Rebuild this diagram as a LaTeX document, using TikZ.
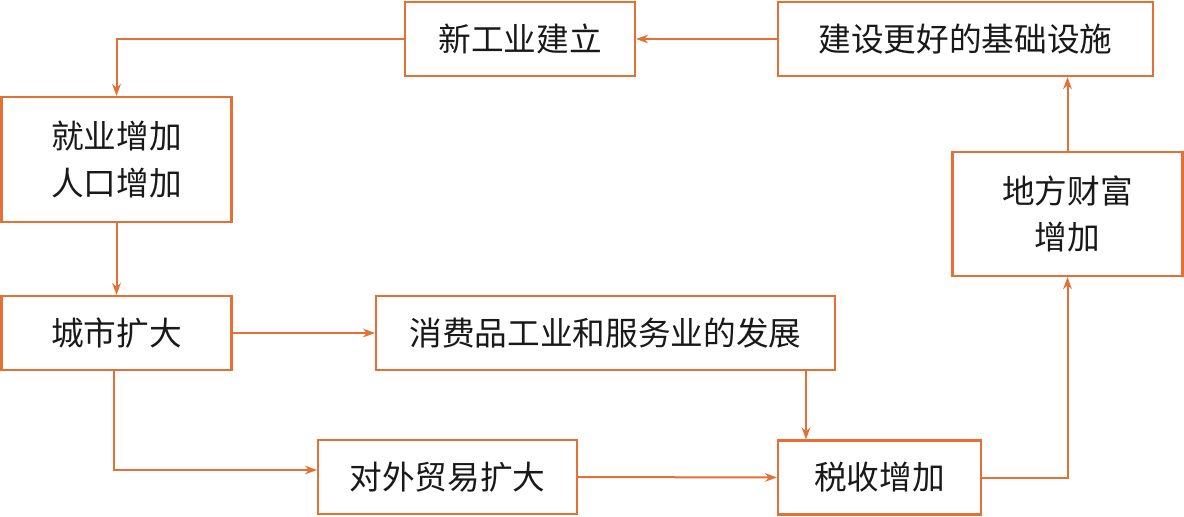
\documentclass[tikz,border=0pt]{standalone}
\usepackage{fontspec}
\newfontfamily\cjk{Noto Sans CJK SC}
\usetikzlibrary{arrows.meta,calc}
\definecolor{org}{RGB}{228,112,52}
\tikzset{
  box/.style={draw=org, line width=1.6pt, inner sep=0pt, align=center,
    font=\cjk\fontsize{24.5}{35}\selectfont, text=black!90},
  arr/.style={draw=org, line width=1.5pt, -{Stealth[length=9pt,width=6.5pt]}}
}
\begin{document}
\begin{tikzpicture}[x=0.75pt,y=-0.75pt]
\useasboundingbox (0,0) rectangle (1184,517);
\node[box, minimum width=172.5pt, minimum height=55.5pt] (xg) at (520,39) {新工业建立};
\node[box, minimum width=281.25pt, minimum height=55.5pt] (js) at (965.5,39) {建设更好的基础设施};
\node[box, minimum width=172.5pt, minimum height=93.75pt] (jy) at (116.5,159.5) {就业增加\\人口增加};
\node[box, minimum width=172.5pt, minimum height=93pt] (df) at (1067.5,214) {地方财富\\增加};
\node[box, minimum width=172.5pt, minimum height=55.5pt] (cs) at (116.5,333) {城市扩大};
\node[box, minimum width=344.25pt, minimum height=55.5pt] (xf) at (605.5,333) {消费品工业和服务业的发展};
\node[box, minimum width=194.25pt, minimum height=55.5pt] (dw) at (447.5,477) {对外贸易扩大};
\node[box, minimum width=152.25pt, minimum height=55.5pt] (sh) at (879.5,477.5) {税收增加};
\coordinate (x806) at (806,0);
\draw[arr] (js.west) -- (xg.east);
\draw[arr] (xg.west) -| (jy.north);
\draw[arr] (jy.south) -- (cs.north);
\draw[arr] (cs.east) -- (xf.west);
\draw[arr] ([xshift=-2.25pt]cs.south) |- ([yshift=5.25pt]dw.west);
\draw[arr] (dw.east) -- (sh.west);
\draw[arr] (xf.south -| x806) -- (sh.north -| x806);
\draw[arr] (sh.east) -| (df.south);
\draw[arr] (df.north) -- (js.south -| df.north);
\end{tikzpicture}
\end{document}
